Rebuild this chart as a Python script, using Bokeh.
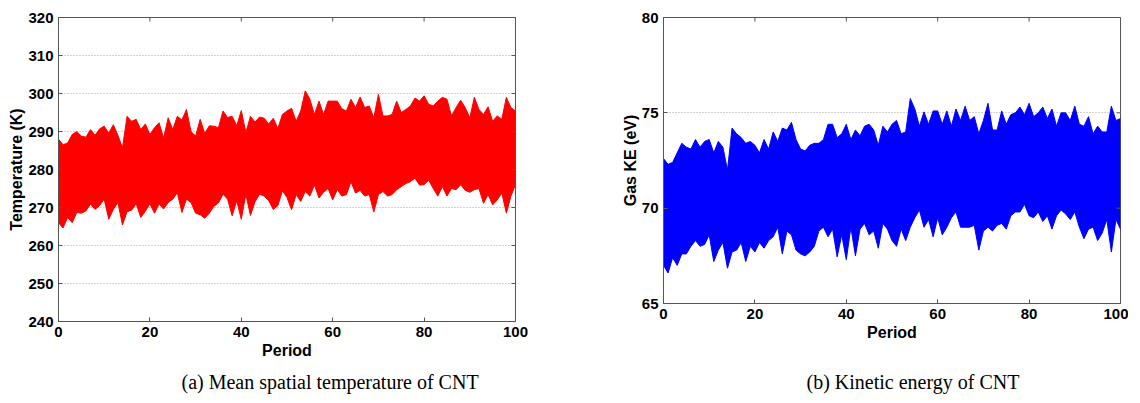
import math
from bokeh.plotting import figure
from bokeh.models import Title, Range1d, FixedTicker
from bokeh.layouts import row
from bokeh.embed import file_html
from bokeh.resources import INLINE

# ---------------- data (per-period envelope) ----------------
period = list(range(101))

temp_hi = [288.0, 286.5, 287.0, 289.2, 290.0, 288.8, 288.5, 290.5, 289.0, 290.7,
           291.4, 289.6, 291.8, 289.0, 285.7, 294.0, 292.7, 293.2, 290.5, 292.0,
           289.2, 291.0, 292.3, 288.3, 293.6, 290.5, 294.0, 293.0, 295.8, 290.0,
           288.8, 293.2, 289.5, 291.5, 291.4, 291.0, 295.4, 293.7, 294.0, 291.5,
           295.5, 289.7, 294.0, 292.5, 293.8, 293.5, 292.0, 293.5, 290.8, 294.5,
           295.4, 296.1, 292.7, 295.4, 300.7, 298.5, 294.5, 298.0, 294.5, 298.0,
           298.0, 298.0, 296.0, 295.4, 298.5, 296.3, 299.1, 296.3, 296.7, 293.6,
           299.8, 294.1, 294.1, 294.5, 298.0, 295.0, 295.8, 296.7, 298.8, 298.0,
           299.4, 297.2, 296.7, 298.0, 299.0, 298.5, 294.1, 296.3, 298.2, 296.3,
           293.6, 299.0, 295.8, 294.5, 296.5, 292.7, 294.1, 293.2, 299.0, 296.3,
           295.4]

temp_lo = [266.0, 264.6, 267.4, 266.0, 268.7, 268.5, 269.1, 270.9, 269.5, 270.5,
           272.2, 266.9, 269.5, 271.3, 265.4, 268.9, 269.3, 271.0, 267.4, 269.0,
           271.0, 268.5, 270.9, 269.6, 271.3, 272.2, 273.9, 268.7, 272.2, 271.3,
           268.5, 268.1, 267.2, 268.5, 270.3, 271.2, 273.5, 272.2, 267.8, 271.8,
           266.9, 273.5, 267.9, 271.5, 273.5, 273.0, 271.8, 269.5, 270.5, 274.4,
           272.6, 269.4, 273.4, 271.6, 274.2, 273.0, 275.9, 272.5, 274.0, 275.0,
           272.0, 274.7, 273.0, 273.4, 276.8, 273.8, 274.5, 273.0, 273.4, 268.8,
           273.4, 274.2, 273.0, 273.4, 274.7, 275.5, 276.3, 276.8, 277.7, 275.9,
           276.0, 277.2, 275.0, 273.0, 275.5, 273.0, 275.0, 274.7, 276.0, 274.5,
           274.0, 274.7, 275.0, 271.1, 273.4, 270.7, 272.0, 273.8, 268.5, 273.0,
           276.0]

ke_hi = [72.6, 72.3, 72.4, 72.9, 73.4, 73.2, 73.1, 73.6, 73.2, 73.5,
         73.6, 72.9, 73.5, 73.2, 72.0, 74.2, 73.9, 73.7, 73.4, 73.5,
         73.3, 72.9, 73.6, 73.1, 74.0, 73.5, 74.2, 74.1, 74.5, 73.6,
         73.1, 73.0, 73.3, 73.4, 73.4, 73.6, 74.4, 74.4, 73.7, 73.9,
         74.4, 73.6, 74.1, 73.8, 74.3, 74.4, 74.1, 73.3, 74.3, 74.0,
         74.4, 74.6, 73.9, 74.0, 75.75, 75.2, 74.3, 75.05, 74.4, 75.1,
         75.1, 74.4, 75.1, 74.3, 75.2, 74.6, 75.35, 74.6, 74.8, 73.9,
         74.6, 75.5, 74.1, 74.1, 75.1, 74.4, 74.9, 75.0, 75.3, 74.9,
         75.5, 74.8, 75.0, 75.3, 74.7, 75.2, 74.3, 75.0, 75.0, 74.6,
         75.35, 74.4, 74.3, 74.8, 73.9, 74.3, 74.0, 74.0, 75.35, 74.6,
         74.7]

ke_lo = [67.0, 66.6, 67.4, 67.0, 67.6, 67.6, 68.0, 68.3, 68.0, 68.1,
         68.6, 67.2, 67.8, 68.2, 66.85, 67.7, 67.8, 68.2, 67.2, 68.0,
         67.7, 68.2, 67.9, 68.3, 68.5, 69.0, 67.6, 68.8, 68.6, 67.8,
         67.6, 67.5, 67.7, 68.0, 68.8, 69.0, 68.5, 68.9, 67.45, 68.6,
         67.3, 69.0, 67.5, 68.9, 69.2, 68.6, 68.8, 67.9, 69.2, 68.9,
         68.3, 68.0, 68.9, 68.3, 69.0, 69.5, 69.9, 69.0, 69.4, 68.5,
         69.5, 68.6, 69.0, 69.5, 69.8, 69.0, 69.0, 69.0, 69.1, 67.8,
         68.8, 69.0, 68.8, 69.1, 69.2, 68.9, 69.6, 69.8, 69.8, 70.2,
         69.6, 69.5, 69.8, 69.3, 69.6, 68.9, 69.6, 69.9, 69.7, 69.4,
         69.8, 69.0, 68.4, 68.9, 69.0, 68.3, 68.7, 69.4, 67.7, 69.4,
         68.9]

period_ticks = [0, 20, 40, 60, 80, 100]
temp_ticks = [240, 250, 260, 270, 280, 290, 300, 310, 320]
ke_ticks = [65, 70, 75, 80]

caption_a = "(a) Mean spatial temperature of CNT"
caption_b = "(b) Kinetic energy of CNT"

AX = "#555555"


def style_axis(ax):
    ax.major_tick_in = 4
    ax.major_tick_out = 0
    ax.minor_tick_in = 0
    ax.minor_tick_out = 0
    ax.axis_line_color = AX
    ax.major_tick_line_color = AX
    ax.major_label_text_font = "Liberation Sans"
    ax.major_label_text_font_style = "bold"
    ax.major_label_text_font_size = "15px"
    ax.major_label_text_color = "black"
    ax.axis_label_text_font = "Liberation Sans"
    ax.axis_label_text_font_style = "bold"
    ax.axis_label_text_font_size = "16px"
    ax.axis_label_text_color = "black"


def make_panel(hi, lo, color, yr, yticks, ylabel, caption, cap_offset,
               cap_standoff, fh, top, bottom, left, right):
    p = figure(x_range=Range1d(0, 100), y_range=Range1d(*yr),
               frame_width=457, frame_height=fh,
               min_border_left=left, min_border_right=right,
               min_border_top=top, min_border_bottom=bottom,
               output_backend="svg", toolbar_location=None,
               outline_line_color=AX, outline_line_width=1,
               background_fill_color="white", border_fill_color="white")
    p.xaxis.ticker = FixedTicker(ticks=period_ticks)
    p.yaxis.ticker = FixedTicker(ticks=yticks)
    p.xaxis.axis_label = "Period"
    p.yaxis.axis_label = ylabel
    for ax in p.xaxis + p.yaxis:
        style_axis(ax)
    p.xaxis.major_label_standoff = 5
    p.xaxis.axis_label_standoff = 2
    p.yaxis.axis_label_standoff = 0

    p.xgrid.visible = False
    p.ygrid.ticker = FixedTicker(ticks=yticks)
    p.ygrid.grid_line_color = "#a8a8a8"
    p.ygrid.grid_line_dash = "1 2"
    p.ygrid.grid_line_width = 1

    p.varea(x=period, y1=lo, y2=hi, fill_color=color)
    p.line(period, hi, line_color=color, line_width=1)
    p.line(period, lo, line_color=color, line_width=1)

    # inward ticks on the top and right edges of the box (half of each dash is clipped)
    p.scatter(x=period_ticks, y=[yr[1]] * len(period_ticks), marker="dash",
              angle=math.pi / 2, size=8, line_color=AX, line_width=1)
    p.scatter(x=[100] * len(yticks), y=yticks, marker="dash",
              size=8, line_color=AX, line_width=1)

    t = Title(text=caption, align="left", offset=cap_offset,
              standoff=cap_standoff,
              text_font="Liberation Serif", text_font_size="20px",
              text_font_style="normal", text_color="black")
    p.add_layout(t, "below")
    return p


p1 = make_panel(temp_hi, temp_lo, "#ff0000", (240, 320), temp_ticks,
                "Temperature (K)", caption_a, 123, 14,
                fh=304, top=17, bottom=70, left=58, right=103)
p2 = make_panel(ke_hi, ke_lo, "#0000ff", (65, 80), ke_ticks,
                "Gas KE (eV)", caption_b, 143, 50,
                fh=286, top=11, bottom=94, left=45, right=8)

layout = row(p1, p2)
open("out.html", "w").write(file_html(layout, INLINE))
